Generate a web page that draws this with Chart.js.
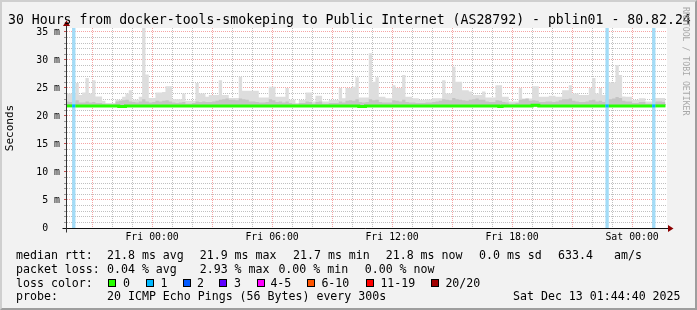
<!DOCTYPE html>
<html><head><meta charset="utf-8">
<script src="https://cdn.jsdelivr.net/npm/chart.js@4"></script>
<style>
html,body{margin:0;padding:0;background:#f2f2f2;}
#wrap{position:relative;width:697px;height:310px;overflow:hidden;background:#f2f2f2;font-family:'DejaVu Sans Mono',monospace;}
#c{position:absolute;left:0;top:0;width:697px;height:310px;}
.t{position:absolute;white-space:pre;color:#000;line-height:14px;font-size:11.6px;}
.box{position:absolute;width:6px;height:6px;border:1px solid #000;}
#title{position:absolute;left:8px;top:12.5px;white-space:pre;font-size:13.2px;line-height:14px;color:#000;}
#wm{position:absolute;left:681px;top:7px;writing-mode:vertical-rl;font-size:8.2px;color:#a8a8a8;white-space:pre;}
#frame{position:absolute;left:0;top:0;width:697px;height:310px;box-sizing:border-box;border-top:2px solid #cfcfcf;border-left:2px solid #cfcfcf;border-right:2px solid #9e9e9e;border-bottom:2px solid #9e9e9e;pointer-events:none;}
</style></head><body>
<div id="wrap"><canvas id="c" width="697" height="310"></canvas><div id="title"></div><div id="wm"></div><div id="legend"></div><div id="frame"></div></div>
<script>
// ---------- data ----------
const titleText = '30 Hours from docker-tools-smokeping to Public Internet (AS28792) - pblin01 - 80.82.24';
const startHour = 19 + 44/60 + 40/3600;   // Thu 19:44:40 (hours since Thu 00:00)
const spanHours = 30;
const firstColHour = 19 + 40/60;          // first 10-minute column starts Thu 19:40
const colHours = 10/60;

// top of the smoke (slowest ping) per 10-minute column, ms
const smokeMax = [
24.0,24.0,24.0,25.9,23.75,24.2,26.8,24.0,26.4,23.5,
23.5,22.7,22.3,22.3,22.3,22.9,22.9,23.45,24.0,24.6,
22.9,22.9,23.45,35.7,27.4,23.2,23.2,24.2,24.2,24.3,
25.3,25.3,23.0,23.0,23.0,24.0,22.7,22.7,22.7,25.9,
24.0,24.0,23.45,23.75,23.75,23.75,26.4,23.75,23.75,23.2,
23.2,23.2,27.0,24.5,24.5,24.5,24.5,24.5,23.3,23.3,
23.3,25.2,25.2,23.45,23.45,23.45,25.0,22.9,22.9,22.3,
22.85,22.85,24.2,24.2,22.6,23.6,23.6,22.6,22.6,22.85,
22.85,22.85,25.0,23.15,25.0,25.0,25.2,26.9,23.3,23.3,
23.3,31.2,26.1,26.9,23.45,23.45,23.15,23.15,25.5,25.0,
25.0,27.3,23.45,23.45,23.15,23.15,22.85,22.85,22.95,22.95,
23.15,23.15,23.15,26.4,24.0,24.0,28.8,26.1,26.1,24.6,
24.6,24.35,23.75,23.75,23.75,24.35,23.3,23.3,23.3,25.5,
25.5,23.45,23.45,22.6,22.6,22.6,25.0,23.1,23.1,23.1,
25.3,25.3,23.45,23.45,23.45,23.6,23.6,23.45,23.45,24.6,
24.6,25.5,24.0,24.0,23.75,23.75,23.75,25.0,26.8,24.0,
25.0,23.75,26.0,26.0,26.0,29.1,27.3,23.5,23.45,23.45,
22.85,22.85,23.15,23.15,22.6,22.6,23.2,23.2,23.2,23.2
];
// top of the denser (darker) part of the smoke, ms
const smokeMid = [
22.6,22.5,22.6,22.8,22.4,22.4,22.6,22.4,22.5,22.3,
22.3,22.2,22.1,22.1,22.1,22.6,22.7,22.8,22.9,22.6,
22.5,22.4,22.6,23.0,22.6,22.4,22.5,22.7,22.6,22.7,
22.8,22.6,22.4,22.3,22.4,22.5,22.2,22.2,22.3,22.6,
22.5,22.6,22.5,22.5,22.6,22.7,22.9,23.0,23.1,22.9,
22.9,22.8,23.1,23.0,22.9,22.6,22.6,22.5,22.4,22.4,
22.5,23.0,22.8,22.5,22.6,22.4,22.6,22.3,22.2,22.1,
22.3,22.3,22.6,22.5,22.2,22.5,22.6,22.2,22.2,22.3,
22.3,22.3,22.6,22.4,22.7,22.8,22.7,23.0,22.5,22.4,
22.5,23.0,22.8,22.9,22.5,22.4,22.4,22.4,22.8,22.7,
22.6,22.9,22.5,22.4,22.4,22.3,22.3,22.3,22.4,22.4,
22.5,22.6,22.7,23.0,22.9,22.8,23.2,23.0,22.9,22.8,
22.7,22.9,23.0,23.1,22.9,22.9,22.6,22.5,22.5,22.8,
22.7,22.5,22.4,22.2,22.2,22.3,22.9,23.0,23.1,22.7,
22.8,22.7,22.5,22.5,22.6,22.6,22.5,22.6,22.8,23.0,
23.0,23.1,22.7,22.6,22.5,22.5,22.6,22.8,22.9,22.6,
22.7,22.5,22.9,23.0,23.1,23.4,23.2,22.7,22.6,22.6,
22.3,22.3,22.5,22.5,22.2,22.2,22.5,22.6,22.6,22.5
];
const smokeFloor = 21.6;
// median rtt per column, ms
const medianRtt = [
21.8,21.8,21.8,21.8,21.8,21.8,21.8,21.8,21.8,21.8,
21.8,21.8,21.8,21.8,21.8,21.8,21.7,21.7,21.8,21.8,
21.8,21.8,21.8,21.8,21.8,21.8,21.8,21.8,21.8,21.8,
21.8,21.8,21.8,21.8,21.8,21.8,21.8,21.8,21.8,21.8,
21.8,21.8,21.8,21.8,21.8,21.8,21.8,21.8,21.8,21.8,
21.8,21.8,21.8,21.8,21.8,21.8,21.8,21.8,21.8,21.8,
21.8,21.8,21.8,21.8,21.8,21.8,21.8,21.8,21.8,21.8,
21.8,21.8,21.8,21.8,21.8,21.8,21.8,21.8,21.8,21.8,
21.8,21.8,21.8,21.8,21.8,21.8,21.8,21.8,21.7,21.7,
21.8,21.8,21.8,21.8,21.8,21.8,21.8,21.8,21.8,21.8,
21.8,21.8,21.8,21.8,21.8,21.8,21.8,21.8,21.8,21.8,
21.8,21.8,21.8,21.8,21.8,21.8,21.8,21.8,21.8,21.8,
21.8,21.8,21.8,21.8,21.8,21.8,21.8,21.8,21.8,21.8,
21.7,21.8,21.8,21.8,21.8,21.8,21.8,21.8,21.8,21.8,
21.9,21.9,21.8,21.8,21.8,21.8,21.8,21.8,21.8,21.8,
21.8,21.8,21.8,21.8,21.8,21.8,21.8,21.8,21.8,21.8,
21.8,21.8,21.8,21.8,21.8,21.8,21.8,21.8,21.8,21.8,
21.8,21.8,21.8,21.8,21.8,21.8,21.8,21.8,21.8,21.8
];
// columns with packet loss and the lost pings (of 20)
const lossColumns = [2, 162, 176];
const lossPings = [1, 1, 1];

const lossLevels = [0, 1, 2, 3, 4, 6, 11, 20];
const lossLabels = ['0', '1', '2', '3', '4-5', '6-10', '11-19', '20/20'];
const lossColors = ['#26ff00', '#00b8ff', '#0059ff', '#5e00ff', '#ff00ff', '#ff5500', '#ff0000', '#a00000'];

const xTickHours = [24, 30, 36, 42, 48];
const xTickLabels = ['Fri 00:00', 'Fri 06:00', 'Fri 12:00', 'Fri 18:00', 'Sat 00:00'];
const yTickValues = [0, 5, 10, 15, 20, 25, 30, 35];
const yTickLabels = ['0  ', '5 m', '10 m', '15 m', '20 m', '25 m', '30 m', '35 m'];
const yMax = 35.71;

const rttStats = ['21.8 ms avg', '21.9 ms max', '21.7 ms min', '21.8 ms now', '0.0 ms sd', '633.4', 'am/s'];
const lossStats = ['0.04 % avg', '2.93 % max', '0.00 % min', '0.00 % now'];
const probeText = '20 ICMP Echo Pings (56 Bytes) every 300s';
const stampText = 'Sat Dec 13 01:44:40 2025';
const watermark = 'RRDTOOL / TOBI OETIKER';

// ---------- helpers ----------
const lossPerCol = smokeMax.map((_, i) => { const k = lossColumns.indexOf(i); return k >= 0 ? lossPings[k] : 0; });
function lossColorFor(n) { let c = lossColors[0]; lossLevels.forEach((lv, k) => { if (n >= lv) c = lossColors[k]; }); return c; }
function stepPoints(arr) {
  const pts = arr.map((v, i) => ({x: firstColHour + i * colHours, y: v}));
  pts.push({x: firstColHour + arr.length * colHours, y: arr[arr.length - 1]});
  return pts;
}
const MINOR = 'rgba(140,140,140,0.55)';
const MAJOR = 'rgba(240,115,115,0.65)';
const isMajorX = c => !!(c.tick && Math.abs(c.tick.value % 3) < 1e-6);
const isMajorY = c => !!(c.tick && Math.abs(c.tick.value % 5) < 1e-6);

const bgPlugin = {
  id: 'bg',
  beforeDraw(chart) {
    const a = chart.chartArea, ctx = chart.ctx;
    ctx.save(); ctx.fillStyle = '#ffffff'; ctx.fillRect(a.left, a.top, a.right - a.left, a.bottom - a.top); ctx.restore();
  }
};
const axisPlugin = {
  id: 'axes',
  afterDraw(chart) {
    const ctx = chart.ctx, xs = chart.scales.x, ys = chart.scales.y;
    const y0 = Math.round(ys.getPixelForValue(0)) + 0.5;
    const x0 = Math.round(xs.left) - 0.5;
    ctx.save();
    ctx.lineWidth = 1;
    ctx.strokeStyle = '#111';
    ctx.beginPath(); ctx.moveTo(x0 - 4, y0); ctx.lineTo(xs.right + 2, y0); ctx.stroke();
    ctx.strokeStyle = '#333';
    ctx.beginPath(); ctx.moveTo(x0, y0 + 4); ctx.lineTo(x0, ys.top - 2); ctx.stroke();
    ctx.fillStyle = '#8b0000';
    ctx.beginPath(); ctx.moveTo(xs.right + 1, y0 - 3.5); ctx.lineTo(xs.right + 6.5, y0); ctx.lineTo(xs.right + 1, y0 + 3.5); ctx.closePath(); ctx.fill();
    ctx.beginPath(); ctx.moveTo(x0 - 3.5, ys.top - 2); ctx.lineTo(x0, ys.top - 7.5); ctx.lineTo(x0 + 3.5, ys.top - 2); ctx.closePath(); ctx.fill();
    ctx.restore();
  }
};

Chart.defaults.font.family = "'DejaVu Sans Mono', monospace";
Chart.defaults.color = '#000';

new Chart(document.getElementById('c'), {
  type: 'line',
  data: {
    datasets: [
      { label: 'median', data: stepPoints(medianRtt), stepped: true, borderWidth: 3, borderCapStyle: 'butt',
        borderColor: lossColors[0], pointRadius: 0, fill: false, clip: 0, order: 0,
        segment: { borderColor: c => lossColorFor(lossPerCol[c.p0DataIndex] || 0) } },
      { label: 'loss', data: stepPoints(lossPerCol.map(l => l > 0 ? yMax : 0)), stepped: true, borderWidth: 0,
        pointRadius: 0, fill: 'origin', backgroundColor: '#a3dcf7', clip: 0, order: 1 },
      { label: 'smokeMid', data: stepPoints(smokeMid), stepped: true, borderWidth: 0, pointRadius: 0,
        fill: {value: smokeFloor}, backgroundColor: '#c4c4c4', clip: 0, order: 2 },
      { label: 'smoke', data: stepPoints(smokeMax), stepped: true, borderWidth: 0, pointRadius: 0,
        fill: {value: smokeFloor}, backgroundColor: '#dddddd', clip: 0, order: 3 }
    ]
  },
  options: {
    responsive: false, animation: false, events: [],
    layout: { padding: { left: 0, right: 30, top: 28, bottom: 62 } },
    plugins: { legend: { display: false }, tooltip: { enabled: false }, title: { display: false } },
    scales: {
      x: {
        type: 'linear', min: startHour, max: startHour + spanHours, z: 1,
        afterFit: s => { s.height = 20; },
        afterBuildTicks: s => { const t = []; for (let h = Math.ceil(s.min); h <= s.max; h++) t.push({value: h}); s.ticks = t; },
        ticks: { autoSkip: false, maxRotation: 0, minRotation: 0, padding: 3.8, font: { size: 9.85 },
          callback: v => { const k = xTickHours.indexOf(v); return k >= 0 ? xTickLabels[k] : ''; } },
        grid: { drawTicks: false, lineWidth: 1, color: c => isMajorX(c) ? MAJOR : MINOR },
        border: { display: false, dash: [1, 1] }
      },
      y: {
        type: 'linear', min: 0, max: yMax, z: 1,
        afterFit: s => { s.width = 67; },
        afterBuildTicks: s => { const t = []; for (let v = 0; v <= s.max; v++) t.push({value: v}); s.ticks = t; },
        ticks: { autoSkip: false, padding: 4, font: { size: 9.85 },
          callback: v => { const k = yTickValues.indexOf(v); return k >= 0 ? yTickLabels[k] : ''; } },
        grid: { drawTicks: true, tickLength: 3, lineWidth: 1, tickBorderDash: [],
          color: c => isMajorY(c) ? MAJOR : MINOR,
          tickColor: c => isMajorY(c) ? '#c05050' : '#999' },
        border: { display: false, dash: [1, 1] },
        title: { display: true, text: 'Seconds', font: { size: 11 }, padding: { top: 3.4, bottom: 0 } }
      }
    }
  },
  plugins: [bgPlugin, axisPlugin]
});

// ---------- texts around the graph ----------
document.getElementById('title').textContent = titleText;
document.getElementById('wm').textContent = watermark;
const legend = document.getElementById('legend');
function addText(x, y, s) { const d = document.createElement('div'); d.className = 't'; d.style.left = x + 'px'; d.style.top = y + 'px'; d.textContent = s; legend.appendChild(d); }
const rowTop = [247.5, 261.5, 275.5, 289.3];
addText(16, rowTop[0], 'median rtt:');
[107, 199.7, 293, 385.7, 479, 558, 614].forEach((x, i) => addText(x, rowTop[0], rttStats[i]));
addText(16, rowTop[1], 'packet loss:');
[107, 199.7, 278.4, 364.7].forEach((x, i) => addText(x, rowTop[1], lossStats[i]));
addText(16, rowTop[2], 'loss color:');
const boxX = [108.3, 145.7, 182.7, 219.3, 256.7, 307.3, 365.7, 431];
const labX = [123, 160.4, 197, 234, 270.4, 321.4, 380.4, 445.4];
lossLabels.forEach((l, i) => {
  const b = document.createElement('div'); b.className = 'box'; b.style.left = boxX[i] + 'px'; b.style.top = '278.5px'; b.style.background = lossColors[i]; legend.appendChild(b);
  addText(labX[i], rowTop[2], l);
});
addText(16, rowTop[3], 'probe:');
addText(107, rowTop[3], probeText);
addText(513, rowTop[3], stampText);
</script>
</body></html>
